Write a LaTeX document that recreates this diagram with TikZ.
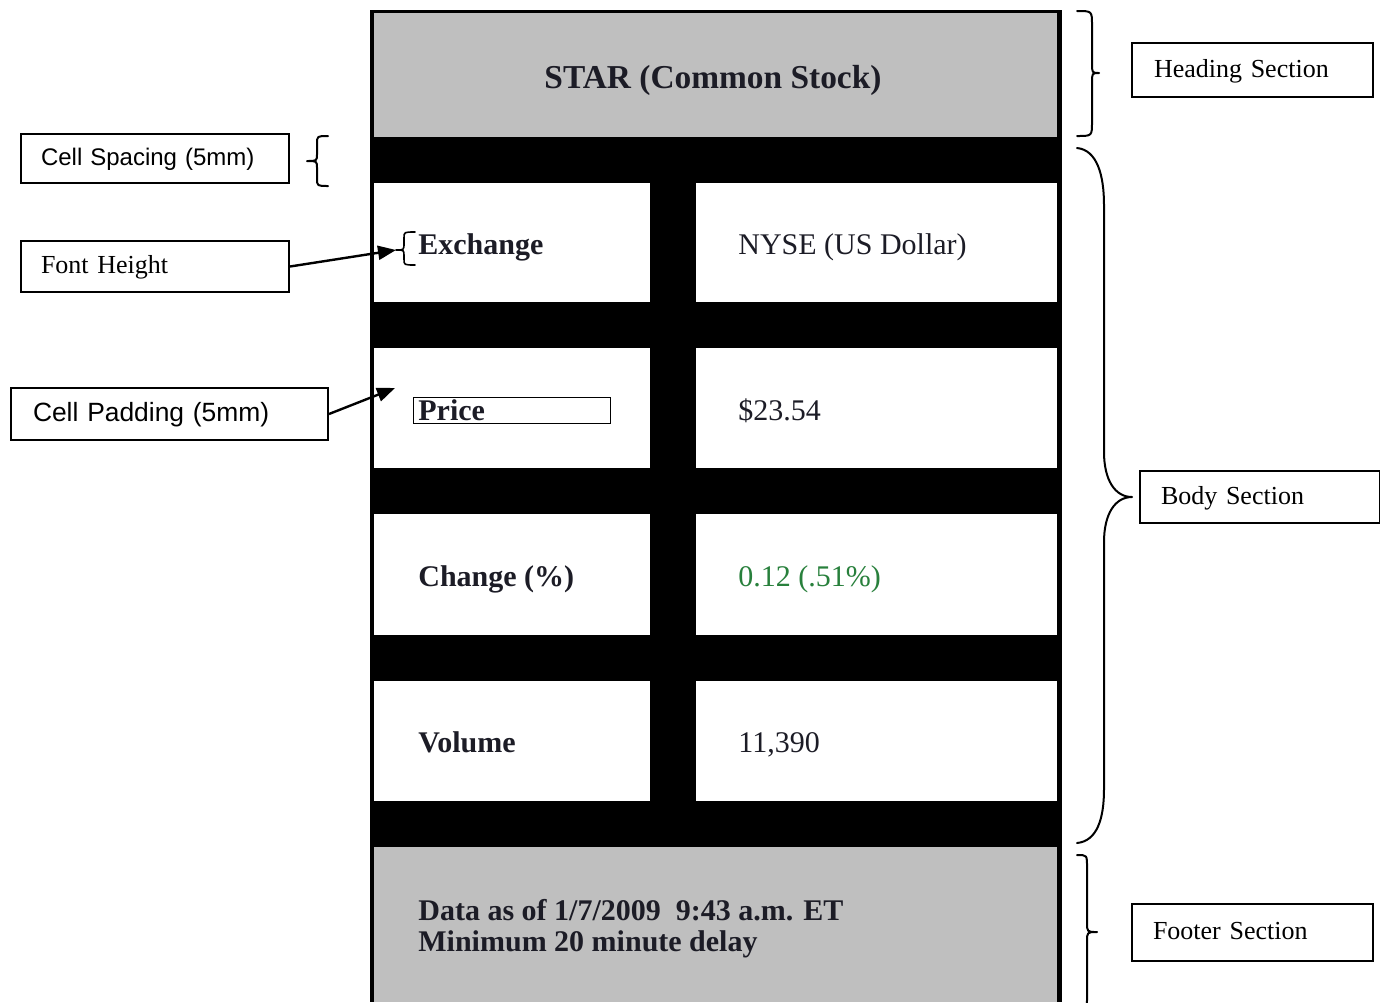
\documentclass[tikz,border=0pt]{standalone}
\usepackage{fontspec}
\setmainfont{Liberation Serif}
\setsansfont{Liberation Sans}
\usetikzlibrary{arrows.meta}
\definecolor{panelgray}{RGB}{191,191,191}
\definecolor{inkdark}{RGB}{28,28,38}
\definecolor{gaingreen}{RGB}{40,128,60}
\begin{document}
\begin{tikzpicture}[x=0.5pt,y=-0.5pt,
  lbl/.style={draw, line width=1pt, anchor=north west, align=left,
    text height=0.7em, text depth=0pt, inner ysep=0pt},
  serifsm/.style={font=\fontsize{13}{15}\selectfont},
  sanssm/.style={font=\sffamily\fontsize{12}{14}\selectfont},
  cellhead/.style={font=\fontsize{15}{17}\selectfont\bfseries, text=inkdark,
    anchor=base west, inner sep=0pt},
  cellval/.style={font=\fontsize{15}{17}\selectfont, text=inkdark,
    anchor=base west, inner sep=0pt},
  bracket/.style={line width=1pt, line cap=round, line join=round},
  pointer/.style={line width=1.2pt, -{Triangle[length=9pt,width=7pt]}}]
\path[use as bounding box] (0,0) rectangle (1380,1002);
\begin{scope}
\clip (0,0) rectangle (1380,1002);

% table frame and spacing (black), heading and footer panels (gray)
\fill[black] (370,10) rectangle (1062,1002);
\fill[panelgray] (374,13) rectangle (1057,137);
\fill[panelgray] (374,847) rectangle (1057,1002);

% body cells
\foreach \top/\bot in {183/302, 348/468, 514/635, 681/801} {
  \fill[white] (374,\top) rectangle (650,\bot);
  \fill[white] (696,\top) rectangle (1057,\bot);
}

% heading
\node[font=\fontsize{16.7}{19}\selectfont\bfseries, text=inkdark, anchor=base,
  inner sep=0pt] (title) at (713,88) {STAR (Common Stock)};

% body cell texts
\node[cellhead] (exch)  at (418,254) {Exchange};
\node[cellhead] (price) at (418,420) {Price};
\node[cellhead] (chg)   at (418,586) {Change (\%)};
\node[cellhead] (vol)   at (418,752) {Volume};
\node[cellval] (exchv)  at (738,254) {NYSE (US Dollar)};
\node[cellval] (pricev) at (738,420) {\$23.54};
\node[cellval, text=gaingreen] (chgv) at (738,586) {0.12 (.51\%)};
\node[cellval] (volv)   at (738,752) {11,390};

% padding outline around the price label
\node[draw, line width=0.6pt, minimum width=98.5pt, minimum height=13pt,
  anchor=north west, inner sep=0pt] (pricebox) at (413,397) {};

% footer
\node[cellhead] (foot1) at (418,920) {Data as of 1/7/2009\ \ 9:43 a.m. ET};
\node[cellhead] (foot2) at (418,951) {Minimum 20 minute delay};

% section braces on the right
\draw[bracket] (1077,11) .. controls (1092,11) .. (1092,25) -- (1092,63)
  .. controls (1092,73) .. (1099,73) .. controls (1092,73) .. (1092,83)
  -- (1092,122) .. controls (1092,136) .. (1077,136);
\draw[bracket] (1077,148) .. controls (1097,150) and (1104,175) .. (1104,205)
  -- (1104,452) .. controls (1104,480) and (1115,497) .. (1132,497)
  .. controls (1115,497) and (1104,514) .. (1104,542)
  -- (1104,789) .. controls (1104,819) and (1097,841) .. (1077,843);
\draw[bracket] (1077,855) .. controls (1087,855) .. (1087,867) -- (1087,922)
  .. controls (1087,932) .. (1097,932) .. controls (1087,932) .. (1087,942)
  -- (1087,997) .. controls (1087,1009) .. (1077,1009);

% small braces on the left
\draw[bracket] (328,136) .. controls (317,136) .. (317,144) -- (317,154)
  .. controls (317,161) .. (307,161) .. controls (317,161) .. (317,168)
  -- (317,178) .. controls (317,186) .. (328,186);
\draw[bracket, line width=0.8pt] (415,232) .. controls (404,232) .. (404,238)
  -- (404,243) .. controls (404,250) .. (396,250) .. controls (404,250) .. (404,256)
  -- (404,259) .. controls (404,265) .. (415,265);

% callout boxes
\node[lbl, serifsm, text width=98.5pt, inner xsep=11pt, minimum height=27pt]
  (hs) at (1131,42) {Heading Section};
\node[lbl, serifsm, text width=99pt, inner xsep=10.5pt, minimum height=26pt]
  (bs) at (1139,470) {Body Section};
\node[lbl, serifsm, text width=99.5pt, inner xsep=10.5pt, minimum height=28.5pt]
  (fs) at (1131,903) {Footer Section};
\node[lbl, sanssm, text width=114pt, inner xsep=10pt, minimum height=24.5pt]
  (cs) at (20,133) {Cell Spacing (5mm)};
\node[lbl, serifsm, text width=114pt, inner xsep=10pt, minimum height=25.5pt]
  (fh) at (20,240) {Font Height};
\node[lbl, sanssm, font=\sffamily\fontsize{13.2}{15}\selectfont, text width=136.5pt,
  inner xsep=11pt, minimum height=26pt] (cp) at (10,387) {Cell Padding (5mm)};

% pointers
\coordinate (fhtip) at (396,250);
\coordinate (cptip) at (395,388);
\draw[pointer] (fh.east) -- (fhtip);
\draw[pointer] (cp.east) -- (cptip);
\end{scope}
\end{tikzpicture}
\end{document}
